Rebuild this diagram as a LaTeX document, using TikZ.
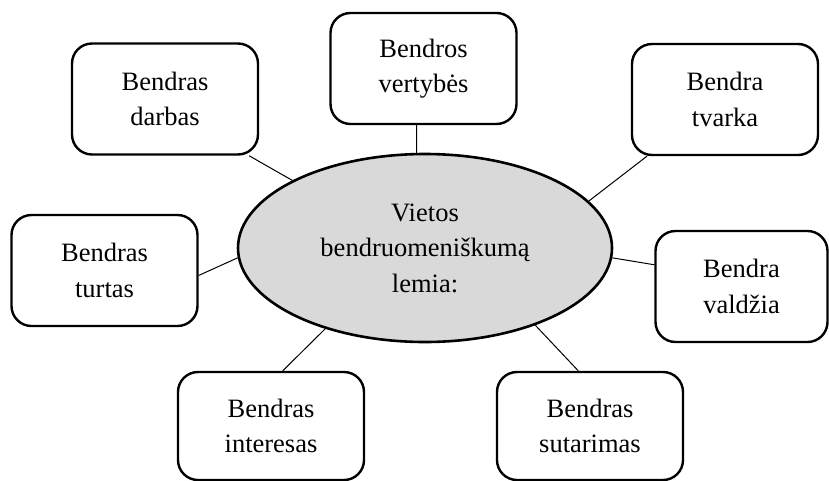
\documentclass[tikz,border=0pt]{standalone}
\usepackage{fontspec}
\setmainfont{Liberation Serif}
\usetikzlibrary{shapes.geometric}

\begin{document}
\begin{tikzpicture}[x=1pt, y=-1pt,
  txt/.style={font=\fontsize{26.5}{35.5}\selectfont, align=center, inner sep=0pt},
  factor/.style={txt, draw, rounded corners=20pt, line width=2.4pt, minimum width=186pt, minimum height=111pt},
  core/.style={txt, draw, ellipse, fill=black!15, line width=2.6pt, minimum width=374pt, minimum height=188pt},
  link/.style={line width=1pt}]
  \useasboundingbox (0,0) rectangle (829,480);

  \node[core] (core) at (425,248) {Vietos\\bendruomeniškumą\\lemia:};

  \node[factor] (darbas) at (165,99) {Bendras\\darbas};
  \node[factor] (vertybes) at (423.5,68.5) {Bendros\\vertybės};
  \node[factor] (tvarka) at (725,99.5) {Bendra\\tvarka};
  \node[factor] (turtas) at (104.5,270.5) {Bendras\\turtas};
  \node[factor, minimum width=172pt] (valdzia) at (741.5,286.5) {Bendra\\valdžia};
  \node[factor, minimum height=108pt] (interesas) at (271,426) {Bendras\\interesas};
  \node[factor, minimum height=108pt] (sutarimas) at (590,426) {Bendras\\sutarimas};

  \draw[link] (darbas.-34) -- (core.153);
  \draw[link] (vertybes.-97) -- (core.95);
  \draw[link] (tvarka.216) -- (core.16);
  \draw[link] (turtas.-3) -- (core.183);
  \draw[link] (valdzia.166) -- (core.-3);
  \draw[link] (interesas.78) -- (core.219);
  \draw[link] (sutarimas.102) -- (core.-35);
\end{tikzpicture}
\end{document}
